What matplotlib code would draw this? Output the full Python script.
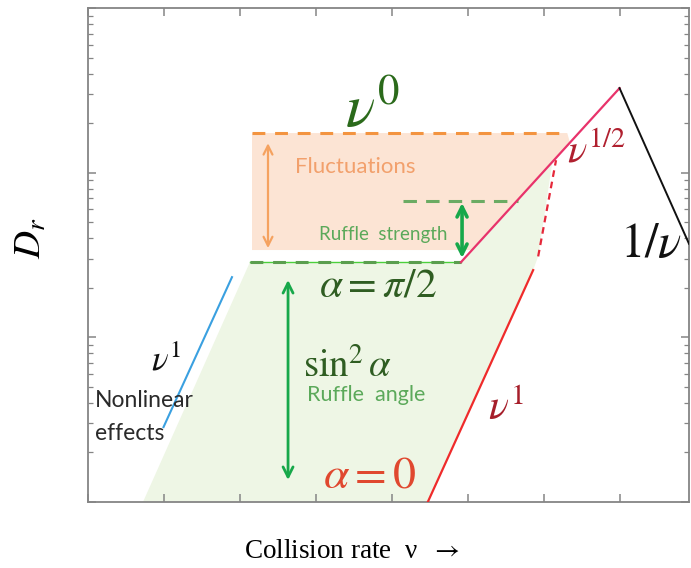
import matplotlib
matplotlib.use("Agg")
import matplotlib.pyplot as plt
from matplotlib.ticker import NullLocator, LogLocator
from matplotlib.patches import Polygon

plt.rcParams['mathtext.fontset'] = 'stix'

# ---- schematic data (collision rate nu, diffusion D_r), log-log units ----
# regime lines
pink_nu = [8.2e4, 1.0e7]          # nu^(1/2) branch
pink_D = [28.6, 326]
black_nu = [1.0e7, 8.2e7]         # 1/nu branch
black_D = [326, 37]
red_nu = [3.0e4, 7.3e5]           # nu^1 branch (alpha = 0)
red_D = [1.0, 25.6]
red_dash_nu = [8.5e5, 1.46e6]     # transition to nu^(1/2)
red_dash_D = [31, 119]
blue_nu = [10.0, 79.6]            # nu^1 with nonlinear effects
blue_D = [2.85, 23.2]

# horizontal levels
fluct_nu = [146, 2.04e6]
fluct_D = 174
halfpi_nu = [137, 8.2e4]
halfpi_D = 28.6
ruffle_nu = [1.42e4, 4.61e5]
ruffle_D = 67.2

# shaded regions
orange_nu = [146, 2.05e6, 2.25e6, 1.15e5, 146]
orange_D = [174, 174, 150, 33.9, 33.9]
green_nu = [5.37, 137, 8.2e4, 1.30e6, 8.5e5, 7.3e5, 3.0e4]
green_D = [1.0, 28.6, 28.6, 114, 31, 25.6, 1.0]

# arrows: (nu, D_start, D_end)
fluct_arrow = (237, 151, 34.8)
angle_arrow = (435, 22.3, 1.36)
strength_arrow = (8.47e4, 65.5, 30.3)

fig = plt.figure(figsize=(6.91, 5.68), dpi=100)
W, H = 691, 568
ax = fig.add_axes([87.5 / W, 66 / H, (689 - 87.5) / W, (560 - 66) / H])
ax.set_xscale('log')
ax.set_yscale('log')
ax.set_xlim(1, 8.2e7)
ax.set_ylim(1, 1000)

# fills
ax.add_patch(Polygon(list(zip(orange_nu, orange_D)), closed=True,
                     facecolor='#fce4d4', edgecolor='none', zorder=1))
ax.add_patch(Polygon(list(zip(green_nu, green_D)), closed=True,
                     facecolor='#eef6e5', edgecolor='none', zorder=1))

# horizontal dashed levels
ax.plot(fluct_nu, [fluct_D] * 2, color='#f39440', lw=2.2,
        dashes=(4.2, 3.2), zorder=3)
ax.plot(halfpi_nu, [halfpi_D] * 2, color='#4cd03c', lw=1.0, zorder=3)
ax.plot(halfpi_nu, [halfpi_D] * 2, color='#5b9e4f', lw=2.2,
        dashes=(4.2, 3.2), zorder=3)
ax.plot(ruffle_nu, [ruffle_D] * 2, color='#6bab63', lw=2.2,
        dashes=(4.4, 3.0), zorder=3)

# regime lines
ax.plot(pink_nu, pink_D, color='#e8336b', lw=1.6, zorder=4)
ax.plot(black_nu, black_D, color='#111111', lw=1.4, zorder=4)
ax.plot(red_nu, red_D, color='#ef2b2b', lw=1.6, zorder=4)
ax.plot(red_dash_nu, red_dash_D, color='#e5283a', lw=1.6,
        dashes=(3, 2.2), zorder=4)
ax.plot(blue_nu, blue_D, color='#3aa0e0', lw=1.5, zorder=4)

# arrows
def double_arrow(spec, color, lw, scale):
    nu, d0, d1 = spec
    ax.annotate('', xy=(nu, d1), xytext=(nu, d0),
                arrowprops=dict(arrowstyle='<->', color=color, lw=lw,
                                mutation_scale=scale, shrinkA=0, shrinkB=0),
                zorder=5)

double_arrow(fluct_arrow, '#f5a260', 1.6, 16)
double_arrow(angle_arrow, '#17a84a', 2.0, 18)
double_arrow(strength_arrow, '#17a84a', 2.6, 18)

# labels on the diagram
ax.text(5540, 240, r'$\nu^{0}$', color='#2b6a1b', fontsize=44,
        ha='center', va='center', zorder=6)
ax.text(3310, 108, 'Fluctuations', color='#f2a06c', fontsize=16,
        family='Lato', ha='center', va='center', zorder=6)
ax.text(7730, 42.4, 'Ruffle  strength', color='#5ba95a', fontsize=13.5,
        family='Lato', ha='center', va='center', zorder=6)
ax.text(6640, 20.8, r'$\alpha = \pi/2$', color='#2f5d22', fontsize=30,
        ha='center', va='center', zorder=6)
ax.text(2650, 6.7, r'$\mathrm{sin}^{2}\,\alpha$', color='#2f5d22',
        fontsize=28, ha='center', va='center', zorder=6)
ax.text(4610, 4.46, 'Ruffle  angle', color='#5ba95a', fontsize=15.5,
        family='Lato', ha='center', va='center', zorder=6)
ax.text(5210, 1.46, r'$\alpha = 0$', color='#e0482f', fontsize=33,
        ha='center', va='center', zorder=6)
ax.text(3.2e5, 3.72, r'$\nu^{1}$', color='#a61e2a', fontsize=30,
        ha='center', va='center', zorder=6)
ax.text(4.9e6, 137, r'$\nu^{1/2}$', color='#b0202f', fontsize=29,
        ha='center', va='center', zorder=6)
ax.text(2.6e7, 37.4, r'$1/\nu$', color='#111111', fontsize=35,
        ha='center', va='center', zorder=6)
ax.text(10.8, 7.28, r'$\nu^{1}$', color='#111111', fontsize=25,
        ha='center', va='center', zorder=6)
ax.text(1.255, 4.16, 'Nonlinear', color='#2a2a2a', fontsize=16.5,
        family='Lato', ha='left', va='center', zorder=6)
ax.text(1.255, 2.62, 'effects', color='#2a2a2a', fontsize=16.5,
        family='Lato', ha='left', va='center', zorder=6)

# axes styling
for s in ax.spines.values():
    s.set_color('#858585')
    s.set_linewidth(1.3)
ax.xaxis.set_minor_locator(NullLocator())
ax.yaxis.set_major_locator(LogLocator(base=10))
ax.yaxis.set_minor_locator(LogLocator(base=10, subs=range(2, 10)))
ax.tick_params(which='both', direction='in', top=True, right=True,
               colors='#858585', labelbottom=False, labelleft=False)
ax.tick_params(which='major', length=6, width=1.1)
ax.tick_params(which='minor', length=3.5, width=0.9)

# axis titles
fig.text(30 / W, 1 - 238 / H, r'$D_r$', fontsize=28, rotation=90,
         ha='center', va='center')
fig.text(352 / W, 1 - 551 / H, r'Collision rate  ν  $\rightarrow$',
         fontsize=19.5, family=['Liberation Serif', 'DejaVu Serif'],
         ha='center', va='center')

fig.savefig('out.png', dpi=100)
